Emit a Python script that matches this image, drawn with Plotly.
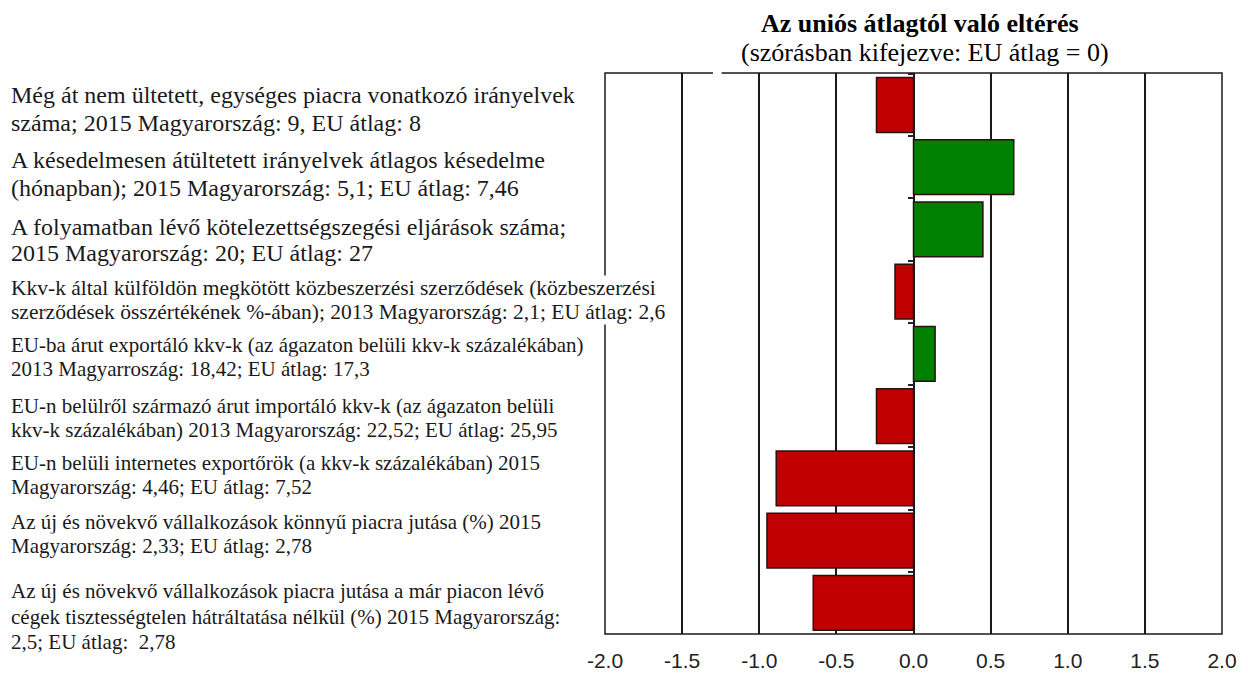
import plotly.graph_objects as go

# indicator descriptions (left-hand labels), top to bottom
labels = [
    "Még át nem ültetett, egységes piacra vonatkozó irányelvek<br>száma; 2015 Magyarország: 9, EU átlag: 8",
    "A késedelmesen átültetett irányelvek átlagos késedelme<br>(hónapban); 2015 Magyarország: 5,1; EU átlag: 7,46",
    "A folyamatban lévő kötelezettségszegési eljárások száma;<br>2015 Magyarország: 20; EU átlag: 27",
    "Kkv-k által külföldön megkötött közbeszerzési szerződések (közbeszerzési<br>szerződések összértékének %-ában); 2013 Magyarország: 2,1; EU átlag: 2,6",
    "EU-ba árut exportáló kkv-k (az ágazaton belüli kkv-k százalékában)<br>2013 Magyarroszág: 18,42; EU átlag: 17,3",
    "EU-n belülről származó árut importáló kkv-k (az ágazaton belüli<br>kkv-k százalékában) 2013 Magyarország: 22,52; EU átlag: 25,95",
    "EU-n belüli internetes exportőrök (a kkv-k százalékában) 2015<br>Magyarország: 4,46; EU átlag: 7,52",
    "Az új és növekvő vállalkozások könnyű piacra jutása (%) 2015<br>Magyarország: 2,33; EU átlag: 2,78",
    "Az új és növekvő vállalkozások piacra jutása a már piacon lévő<br>cégek tisztességtelen hátráltatása nélkül (%) 2015 Magyarország:<br>2,5; EU átlag:  2,78",
]
# deviation from EU average (in standard deviations)
values = [-0.24, 0.65, 0.45, -0.12, 0.14, -0.24, -0.89, -0.95, -0.65]

tick_vals = [-2.0, -1.5, -1.0, -0.5, 0.0, 0.5, 1.0, 1.5, 2.0]
tick_text = ["-2.0", "-1.5", "-1.0", "-0.5", "0.0", "0.5", "1.0", "1.5", "2.0"]

cats = [f"i{i}" for i in range(len(values))]

# label styling: font size, line spacing, downward nudge (px)
label_size = [24, 24, 24, 21.5, 21, 21, 21, 21, 21]
label_lh = [28, 28, 26, 24, 24, 24, 24, 24, 25.5]
label_nudge = [4, 7, 11, 8, 3, 2, -3, -7, 14]

RED = "#c00000"
GREEN = "#008000"
colors = [GREEN if v > 0 else RED for v in values]

fig = go.Figure()
fig.add_trace(go.Bar(
    x=values, y=cats, orientation="h",
    marker=dict(color=colors, line=dict(color="#2b1010", width=1.5)),
    width=0.88,
    hoverinfo="x",
))

for cat, txt, fs, lh, nd in zip(cats, labels, label_size, label_lh, label_nudge):
    lines = txt.split("<br>")
    n = len(lines)
    for k, line in enumerate(lines):
        off = (k - (n - 1) / 2) * lh + nd
        fig.add_annotation(
            x=-0.964, y=cat, xref="paper", yref="y",
            text=line, showarrow=False, xanchor="left", yanchor="middle",
            align="left", yshift=-off, bgcolor="white", borderpad=0,
            font=dict(family="Liberation Serif", size=fs, color="#1a1a1a"),
        )

fig.add_annotation(
    x=0.511, y=1.089, xref="paper", yref="paper", showarrow=False,
    xanchor="center", yanchor="middle",
    text="<b>Az uniós átlagtól való eltérés</b>",
    font=dict(family="Liberation Serif", size=26, color="black"),
)
fig.add_annotation(
    x=0.519, y=1.037, xref="paper", yref="paper", showarrow=False,
    xanchor="center", yanchor="middle",
    text="(szórásban kifejezve: EU átlag = 0)",
    font=dict(family="Liberation Serif", size=26, color="black"),
)

# plot frame
fig.add_shape(type="rect", xref="paper", yref="paper", x0=0, x1=1, y0=0, y1=1,
              line=dict(color="#1a1a1a", width=1.5), layer="above")
# small break in the top edge, as in the source image
fig.add_shape(type="line", xref="paper", yref="paper", x0=0.175, x1=0.189, y0=1, y1=1,
              line=dict(color="white", width=3), layer="above")

fig.update_xaxes(
    range=[-2, 2], tickvals=tick_vals, ticktext=tick_text,
    showgrid=True, gridcolor="#1a1a1a", gridwidth=1.5, zeroline=False,
    showline=False, ticks="", ticklabelstandoff=12, automargin=False,
    tickfont=dict(family="Liberation Sans", size=21, color="#222"),
)
fig.update_yaxes(
    categoryorder="array", categoryarray=cats, autorange="reversed",
    anchor="free", position=0.5, showticklabels=False, showgrid=False,
    ticks="outside", ticklen=6, tickwidth=1.5, tickcolor="#222",
    tickson="boundaries", showline=False, zeroline=False, automargin=False,
)

# page body adds an 8px margin, so the figure is 8px smaller than the window
fig.update_layout(
    width=1240, height=665,
    margin=dict(l=597, r=26, t=65, b=39),
    plot_bgcolor="white", paper_bgcolor="white",
    showlegend=False, bargap=0.12,
)

fig.write_html("out.html")
